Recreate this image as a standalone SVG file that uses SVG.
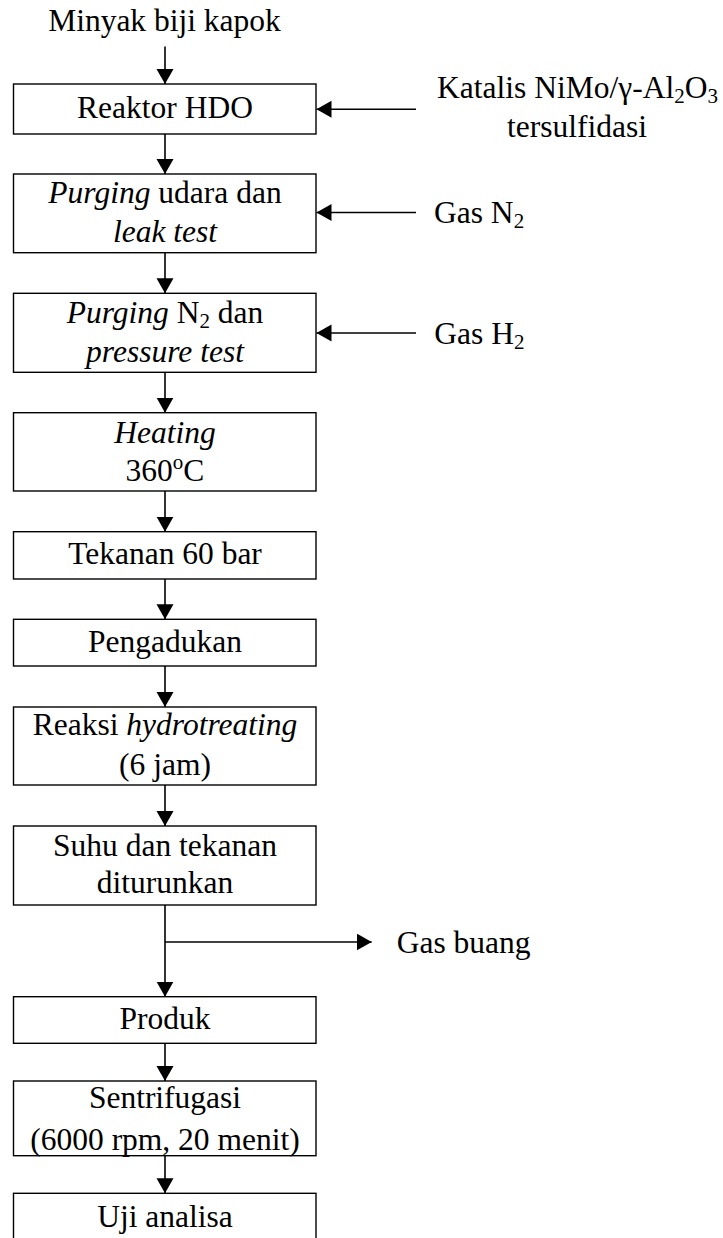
<svg xmlns="http://www.w3.org/2000/svg" width="723" height="1238" viewBox="0 0 723 1238">
<defs>
<style>
text{font-family:"Liberation Serif","Times New Roman",serif;font-size:31.5px;fill:#000}
.c{text-anchor:middle}
.i{font-style:italic}
.box{fill:#fff;stroke:#000;stroke-width:1.4}
.ln{fill:none;stroke:#000;stroke-width:1.6}
</style>
<marker id="ah" markerUnits="userSpaceOnUse" markerWidth="16" markerHeight="18" refX="15" refY="8.5" orient="auto">
<path d="M0,0 L15,8.5 L0,17 z" fill="#000"/>
</marker>
</defs>
<rect width="723" height="1238" fill="#fff"/>
<g id="connectors">
<line class="ln" x1="165" y1="46.5" x2="165" y2="84" marker-end="url(#ah)"/>
<line class="ln" x1="165" y1="134" x2="165" y2="174" marker-end="url(#ah)"/>
<line class="ln" x1="165" y1="252.7" x2="165" y2="293.3" marker-end="url(#ah)"/>
<line class="ln" x1="165" y1="372.3" x2="165" y2="412.7" marker-end="url(#ah)"/>
<line class="ln" x1="165" y1="491" x2="165" y2="531.7" marker-end="url(#ah)"/>
<line class="ln" x1="165" y1="579" x2="165" y2="619.3" marker-end="url(#ah)"/>
<line class="ln" x1="165" y1="666" x2="165" y2="707" marker-end="url(#ah)"/>
<line class="ln" x1="165" y1="785" x2="165" y2="826" marker-end="url(#ah)"/>
<line class="ln" x1="165" y1="905" x2="165" y2="996.7" marker-end="url(#ah)"/>
<line class="ln" x1="165" y1="942" x2="371.7" y2="942" marker-end="url(#ah)"/>
<line class="ln" x1="165" y1="1043.3" x2="165" y2="1081" marker-end="url(#ah)"/>
<line class="ln" x1="165" y1="1155.7" x2="165" y2="1193.3" marker-end="url(#ah)"/>
<line class="ln" x1="416" y1="109.3" x2="316.5" y2="109.3" marker-end="url(#ah)"/>
<line class="ln" x1="416" y1="212.5" x2="316.5" y2="212.5" marker-end="url(#ah)"/>
<line class="ln" x1="416" y1="333" x2="316.5" y2="333" marker-end="url(#ah)"/>
</g>
<g id="input"><text class="c" x="164.5" y="31">Minyak biji kapok</text></g>
<g id="n1"><rect class="box" x="13.5" y="84" width="302.5" height="50"/><text class="c" x="165" y="118.3">Reaktor HDO</text></g>
<g id="n2"><rect class="box" x="13.5" y="174" width="302.5" height="78.7"/><text class="c" x="165" y="203"><tspan class="i">Purging</tspan> udara dan</text><text class="c i" x="165" y="242">leak test</text></g>
<g id="n3"><rect class="box" x="13.5" y="293.3" width="302.5" height="79"/><text class="c" x="165" y="322.7"><tspan class="i">Purging</tspan> N<tspan font-size="21" dy="5">2</tspan><tspan dy="-5"> dan</tspan></text><text class="c i" x="165" y="361.7">pressure test</text></g>
<g id="n4"><rect class="box" x="13.5" y="412.7" width="302.5" height="78.3"/><text class="c i" x="165" y="443.3">Heating</text><text class="c" x="165" y="481">360<tspan font-size="21" dy="-12">o</tspan><tspan dy="12">C</tspan></text></g>
<g id="n5"><rect class="box" x="13.5" y="531.7" width="302.5" height="47.3"/><text class="c" x="165" y="564.3">Tekanan 60 bar</text></g>
<g id="n6"><rect class="box" x="13.5" y="619.3" width="302.5" height="46.7"/><text class="c" x="165" y="652.3">Pengadukan</text></g>
<g id="n7"><rect class="box" x="13.5" y="707" width="302.5" height="78"/><text class="c" x="165" y="735">Reaksi <tspan class="i">hydrotreating</tspan></text><text class="c" x="165" y="775">(6 jam)</text></g>
<g id="n8"><rect class="box" x="13.5" y="826" width="302.5" height="79"/><text class="c" x="165" y="856">Suhu dan tekanan</text><text class="c" x="165" y="893">diturunkan</text></g>
<g id="n9"><rect class="box" x="13.5" y="996.7" width="302.5" height="46.6"/><text class="c" x="165" y="1029.3">Produk</text></g>
<g id="n10"><rect class="box" x="13.5" y="1081" width="302.5" height="74.7"/><text class="c" x="165" y="1108">Sentrifugasi</text><text class="c" x="165" y="1150">(6000 rpm, 20 menit)</text></g>
<g id="n11"><rect class="box" x="13.5" y="1193.3" width="302.5" height="60"/><text class="c" x="165" y="1226.7">Uji analisa</text></g>
<g id="katalis"><text class="c" x="577.5" y="98.3">Katalis NiMo/γ-Al<tspan font-size="21" dy="5">2</tspan><tspan dy="-5">O</tspan><tspan font-size="21" dy="5">3</tspan></text><text class="c" x="577" y="136.7">tersulfidasi</text></g>
<g id="gasN2"><text x="434" y="223.3">Gas N<tspan font-size="21" dy="5">2</tspan></text></g>
<g id="gasH2"><text x="434.3" y="344">Gas H<tspan font-size="21" dy="5">2</tspan></text></g>
<g id="gasbuang"><text x="396.7" y="952.7">Gas buang</text></g>
</svg>
